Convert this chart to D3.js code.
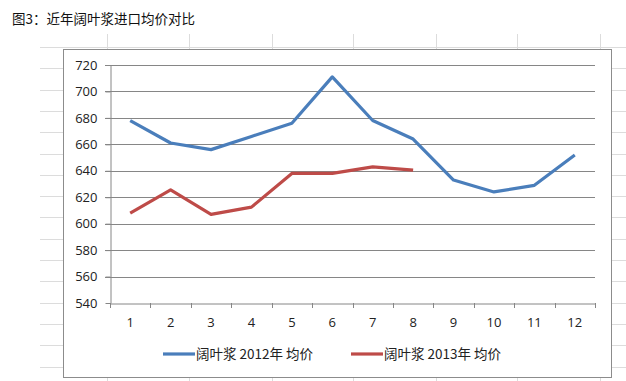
<!DOCTYPE html>
<html><head><meta charset="utf-8">
<script src="https://cdn.jsdelivr.net/npm/d3@7/dist/d3.min.js"></script>
<style>body{margin:0;background:#fff;}svg{display:block;}</style>
</head><body>
<script>
const title = "图3：近年阔叶浆进口均价对比";
const months = ["1","2","3","4","5","6","7","8","9","10","11","12"];
const series2012 = [678, 661, 656, 666, 676, 711, 678, 664, 633, 624, 629, 652];
const series2013 = [608, 625.5, 607, 612.5, 638, 638, 643, 640.5];
const seriesNames = ["阔叶浆 2012年 均价", "阔叶浆 2013年 均价"];
const seriesColors = ["#4a7ebb", "#be4b48"];
const yTicks = [540, 560, 580, 600, 620, 640, 660, 680, 700, 720];

const W = 626, H = 381;
const svg = d3.select("body").append("svg").attr("width", W).attr("height", H);

// spreadsheet background grid
const sheetRows = d3.range(16).map(i => 47 + i * 21.3);
const sheetCols = [107, 189, 272, 353, 436, 517, 600];
svg.selectAll("line.row").data(sheetRows).enter().append("line")
  .attr("x1", 40).attr("x2", W).attr("y1", d => Math.round(d) + 0.5).attr("y2", d => Math.round(d) + 0.5)
  .attr("stroke", "#dcdcdc").attr("stroke-width", 1);
svg.selectAll("line.col").data(sheetCols).enter().append("line")
  .attr("x1", d => d + 0.5).attr("x2", d => d + 0.5).attr("y1", 34).attr("y2", H)
  .attr("stroke", "#dcdcdc").attr("stroke-width", 1);

// title
svg.append("text").attr("x", 12).attr("y", 24).text(title)
  .attr("font-family", "'Noto Sans CJK SC', sans-serif").attr("font-size", 13.5).attr("fill", "#111");

// chart box
svg.append("rect").attr("x", 63.5).attr("y", 49.5).attr("width", 548).attr("height", 328)
  .attr("fill", "#fff").attr("stroke", "#8c8c8c").attr("stroke-width", 1);

const plot = {left: 110, right: 595, top: 65, bottom: 303};
const x = d3.scaleBand().domain(months).range([plot.left, plot.right]);
const y = d3.scaleLinear().domain([540, 720]).range([plot.bottom, plot.top]);

const font = "'Open Sans', 'Liberation Sans', sans-serif";

// horizontal gridlines
svg.append("g").selectAll("line").data(yTicks.filter(v => v > 540)).enter().append("line")
  .attr("x1", plot.left - 5).attr("x2", plot.right)
  .attr("y1", d => Math.round(y(d)) + 0.5).attr("y2", d => Math.round(y(d)) + 0.5)
  .attr("stroke", "#868686").attr("stroke-width", 1);

// y axis
const yAxis = svg.append("g").attr("transform", `translate(${plot.left + 0.5},0)`)
  .call(d3.axisLeft(y).tickValues(yTicks).tickSize(5).tickSizeOuter(0).tickPadding(8));
yAxis.select(".domain").attr("stroke", "#868686");
yAxis.selectAll(".tick line").attr("stroke", "#868686");
yAxis.selectAll(".tick text").attr("font-family", font).attr("font-size", 13).attr("fill", "#222");

// x axis
const xAxis = svg.append("g").attr("transform", `translate(0,${Math.round(plot.bottom) + 0.5})`)
  .call(d3.axisBottom(x).tickSize(0).tickSizeOuter(0).tickPadding(14));
xAxis.select(".domain").attr("stroke", "#868686");
xAxis.selectAll(".tick text").attr("font-family", font).attr("font-size", 13).attr("fill", "#222");
// boundary ticks between categories
const bounds = months.map(m => x(m)).concat([plot.right]);
svg.append("g").selectAll("line").data(bounds).enter().append("line")
  .attr("x1", d => Math.round(d) + 0.5).attr("x2", d => Math.round(d) + 0.5)
  .attr("y1", plot.bottom).attr("y2", plot.bottom + 5)
  .attr("stroke", "#868686");

// lines
const line = d3.line().x((d, i) => x(months[i]) + x.bandwidth() / 2).y(d => y(d));
[series2012, series2013].forEach((s, k) => {
  svg.append("path").datum(s).attr("d", line).attr("fill", "none")
    .attr("stroke", seriesColors[k]).attr("stroke-width", 3.2)
    .attr("stroke-linejoin", "round").attr("stroke-linecap", "butt");
});

// legend
const legendX = [163, 351];
seriesNames.forEach((n, k) => {
  svg.append("line").attr("x1", legendX[k]).attr("x2", legendX[k] + 32)
    .attr("y1", 354).attr("y2", 354).attr("stroke", seriesColors[k]).attr("stroke-width", 3.2);
  svg.append("text").attr("x", legendX[k] + 33).attr("y", 359).text(n)
    .attr("font-family", "'Noto Sans CJK SC', sans-serif").attr("font-size", 13.5).attr("fill", "#222");
});
</script>
</body></html>
